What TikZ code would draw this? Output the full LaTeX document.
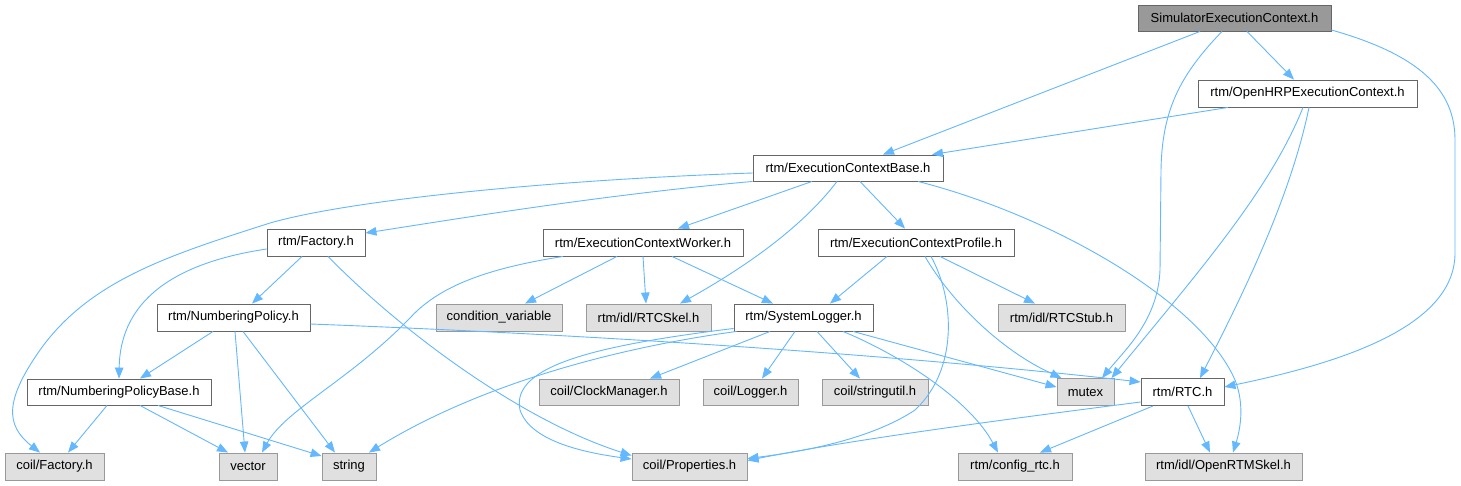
\documentclass[tikz,border=0pt]{standalone}
\usepackage{fontspec}
\setmainfont{Liberation Sans}
\usetikzlibrary{arrows.meta}
\definecolor{edgec}{HTML}{63B8FF}
\definecolor{grayfill}{HTML}{E0E0E0}
\definecolor{grayline}{HTML}{999999}
\definecolor{darkline}{HTML}{666666}
\definecolor{rootfill}{HTML}{999999}
\tikzset{
  box/.style={rectangle, inner sep=0pt, line width=0.9pt, font=\fontsize{13pt}{15pt}\selectfont, text=black},
  wnode/.style={box, draw=darkline, fill=white},
  gnode/.style={box, draw=grayline, fill=grayfill},
  rnode/.style={box, draw=darkline, fill=rootfill},
  edge/.style={draw=edgec, line width=0.9pt, -{Triangle[length=11pt,width=8.5pt]}},
}
\begin{document}
\begin{tikzpicture}[x=1pt,y=-1pt]
\path[use as bounding box, fill=white] (0,0) rectangle (1461,485);
% nodes
\node[rnode, minimum width=193pt, minimum height=26pt] (root) at (1234.5,18) {SimulatorExecutionContext.h};
\node[wnode, minimum width=219pt, minimum height=27pt] (ohrp) at (1307.5,93.5) {rtm/OpenHRPExecutionContext.h};
\node[wnode, minimum width=190pt, minimum height=26pt] (ecb) at (848,168) {rtm/ExecutionContextBase.h};
\node[wnode, minimum width=196pt, minimum height=27pt] (ecp) at (916,242.5) {rtm/ExecutionContextProfile.h};
\node[wnode, minimum width=98pt, minimum height=27pt] (fac) at (316,242.5) {rtm/Factory.h};
\node[wnode, minimum width=200pt, minimum height=27pt] (ecw) at (643,242.5) {rtm/ExecutionContextWorker.h};
\node[wnode, minimum width=153pt, minimum height=27pt] (np) at (233.5,317.5) {rtm/NumberingPolicy.h};
\node[gnode, minimum width=126pt, minimum height=27pt] (cv) at (499,317.5) {condition\_variable};
\node[gnode, minimum width=125pt, minimum height=27pt] (skel) at (648.5,317.5) {rtm/idl/RTCSkel.h};
\node[wnode, minimum width=139pt, minimum height=27pt] (slog) at (803.5,317.5) {rtm/SystemLogger.h};
\node[gnode, minimum width=127pt, minimum height=27pt] (stub) at (1061.5,317.5) {rtm/idl/RTCStub.h};
\node[wnode, minimum width=184pt, minimum height=26pt] (npb) at (119,392) {rtm/NumberingPolicyBase.h};
\node[gnode, minimum width=140pt, minimum height=26pt] (clock) at (609,392) {coil/ClockManager.h};
\node[gnode, minimum width=95pt, minimum height=26pt] (logger) at (750.5,392) {coil/Logger.h};
\node[gnode, minimum width=106pt, minimum height=26pt] (strutil) at (875,392) {coil/stringutil.h};
\node[gnode, minimum width=57pt, minimum height=27pt] (mutex) at (1085.5,392) {mutex};
\node[wnode, minimum width=83pt, minimum height=27pt] (rtc) at (1182.5,392) {rtm/RTC.h};
\node[gnode, minimum width=99pt, minimum height=27pt] (cfac) at (54.5,466.5) {coil/Factory.h};
\node[gnode, minimum width=58pt, minimum height=27pt] (vector) at (248,466.5) {vector};
\node[gnode, minimum width=54pt, minimum height=27pt] (string) at (349,466.5) {string};
\node[gnode, minimum width=115pt, minimum height=27pt] (prop) at (689.5,466.5) {coil/Properties.h};
\node[gnode, minimum width=114pt, minimum height=27pt] (cfg) at (1015,466.5) {rtm/config\_rtc.h};
\node[gnode, minimum width=157pt, minimum height=27pt] (ortm) at (1223.5,466.5) {rtm/idl/OpenRTMSkel.h};
% edges from root
\draw[edge] ([xshift=-34.5pt]root.south) -- ([xshift=35pt]ecb.north);
\draw[edge] ([xshift=-12.5pt]root.south) .. controls (1180,75) and (1162,110) .. (1161,170) -- (1160,270) .. controls (1158,320) and (1125,350) .. ([xshift=16.5pt]mutex.north);
\draw[edge] ([xshift=12.5pt]root.south) -- ([xshift=-13.5pt]ohrp.north);
\draw[edge] ([yshift=-12pt]root.east) .. controls (1420,55) and (1455,90) .. (1455,140) -- (1455,253) .. controls (1455,330) and (1330,365) .. ([yshift=5pt]rtc.east);
% from OpenHRP
\draw[edge] ([xshift=-79.5pt]ohrp.south) -- ([xshift=84pt]ecb.north);
\draw[edge] ([xshift=-4.5pt]ohrp.south) .. controls (1270,190) and (1200,270) .. ([xshift=26pt]mutex.north);
\draw[edge] ([xshift=1.5pt]ohrp.south) .. controls (1290,200) and (1240,300) .. ([xshift=17.5pt]rtc.north);
% from ExecutionContextBase
\draw[edge] ([yshift=-5pt]ecb.west) .. controls (550,180) and (350,200) .. (270,223) .. controls (170,255) and (90,280) .. (40,350) .. controls (5,400) and (5,425) .. ([xshift=-14.5pt]cfac.north);
\draw[edge] (ecb.south west) .. controls (600,195) and (450,220) .. ([yshift=9.5pt]fac.east);
\draw[edge] ([xshift=-36pt]ecb.south) -- ([xshift=35pt]ecw.north);
\draw[edge] ([xshift=-11pt]ecb.south) .. controls (800,230) and (740,270) .. ([xshift=31.5pt]skel.north);
\draw[edge] ([xshift=12pt]ecb.south) -- ([xshift=-11pt]ecp.north);
\draw[edge] ([xshift=70pt]ecb.south) .. controls (1050,215) and (1200,300) .. (1235,380) .. controls (1245,405) and (1240,430) .. ([xshift=9.5pt]ortm.north);
% from Factory
\draw[edge] ([yshift=-6.5pt]fac.west) .. controls (160,265) and (120,310) .. (npb.north);
\draw[edge] ([xshift=-14pt]fac.south) -- ([xshift=18.5pt]np.north);
\draw[edge] ([xshift=12pt]fac.south) .. controls (400,330) and (520,420) .. ([yshift=11pt]prop.west);
% from NumberingPolicy
\draw[edge] ([xshift=-20.5pt]np.south) -- ([xshift=21pt]npb.north);
\draw[edge] ([xshift=1.5pt]np.south) -- ([xshift=-3pt]vector.north);
\draw[edge] ([xshift=9.5pt]np.south) -- ([xshift=-14pt]string.north);
\draw[edge] ([yshift=-6.5pt]np.east) .. controls (600,335) and (900,355) .. ([yshift=10pt]rtc.west);
% from NumberingPolicyBase
\draw[edge] ([xshift=-12pt]npb.south) -- ([xshift=13.5pt]cfac.north);
\draw[edge] ([xshift=21pt]npb.south) -- ([xshift=-20pt]vector.north);
\draw[edge] ([xshift=39pt]npb.south) -- ([yshift=10.5pt]string.west);
% from ExecutionContextWorker
\draw[edge] ([xshift=-80pt]ecw.south) .. controls (490,268) and (440,285) .. (410,318) .. controls (350,380) and (285,410) .. ([xshift=14pt]vector.north);
\draw[edge] ([xshift=-26pt]ecw.south) -- ([xshift=26pt]cv.north);
\draw[edge] (ecw.south) -- ([xshift=-2.5pt]skel.north);
\draw[edge] ([xshift=29pt]ecw.south) -- ([xshift=-30.5pt]slog.north);
% from ExecutionContextProfile
\draw[edge] ([xshift=-29pt]ecp.south) -- ([xshift=26.5pt]slog.north);
\draw[edge] ([xshift=15pt]ecp.south) .. controls (955,300) and (958,370) .. (915,410) .. controls (870,440) and (800,452) .. ([yshift=8pt]prop.east);
\draw[edge] ([xshift=9pt]ecp.south) .. controls (950,300) and (1000,350) .. ([xshift=-24pt]mutex.north);
\draw[edge] ([xshift=24pt]ecp.south) -- ([xshift=-26.5pt]stub.north);
% from SystemLogger
\draw[edge] ([xshift=3pt]slog.south west) .. controls (600,350) and (470,390) .. ([xshift=20pt]string.north);
\draw[edge] ([yshift=3pt]slog.south west) .. controls (600,345) and (510,365) .. (520,410) .. controls (530,440) and (580,452) .. ([yshift=7.5pt]prop.west);
\draw[edge] ([xshift=-33.5pt]slog.south) -- ([xshift=41pt]clock.north);
\draw[edge] ([xshift=-8.5pt]slog.south) -- ([xshift=11.5pt]logger.north);
\draw[edge] ([xshift=13.5pt]slog.south) -- ([xshift=-15pt]strutil.north);
\draw[edge] ([xshift=49.5pt]slog.south) -- ([yshift=-9pt]mutex.north west);
\draw[edge] ([xshift=39.5pt]slog.south) .. controls (900,355) and (970,400) .. ([xshift=-17pt]cfg.north);
% from RTC
\draw[edge] ([yshift=-10pt]rtc.west) .. controls (1000,420) and (850,440) .. ([yshift=6pt]prop.east);
\draw[edge] ([xshift=-29.5pt]rtc.south) -- ([xshift=25pt]cfg.north);
\draw[edge] ([xshift=5.5pt]rtc.south) -- ([xshift=-13.5pt]ortm.north);
\end{tikzpicture}
\end{document}
